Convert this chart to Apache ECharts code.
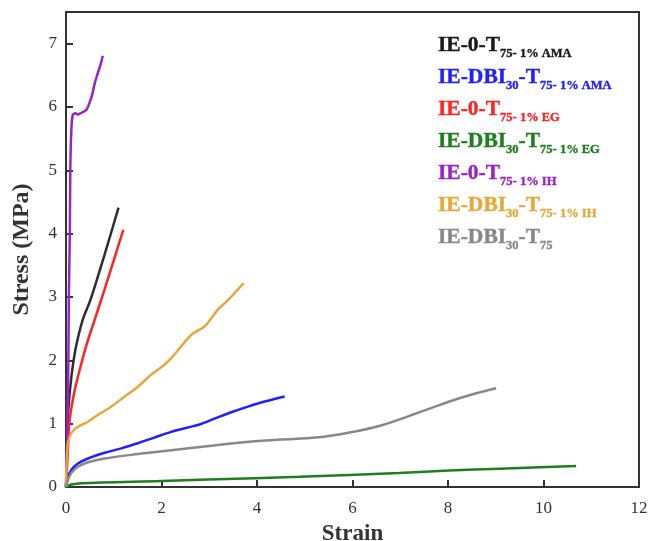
<!DOCTYPE html>
<html>
<head>
<meta charset="utf-8">
<script src="https://cdn.jsdelivr.net/npm/echarts@6/dist/echarts.min.js"></script>
<style>
  html, body { margin: 0; padding: 0; background: #fff; }
  #chart { width: 649px; height: 541px; }
</style>
</head>
<body>
<div id="chart"></div>
<script>
// 曲线数据 [strain, stress]
var ie0Ama = [[0,0],[0.02,0.6],[0.05,1.22],[0.09,1.58],[0.14,1.9],[0.21,2.22],[0.35,2.64],[0.51,2.95],[0.8,3.65],[1.1,4.41]];
var dbiAma = [[0,0],[0.02,0.1],[0.04,0.16],[0.11,0.27],[0.25,0.37],[0.46,0.45],[0.81,0.54],[1.16,0.61],[1.5,0.69],[1.85,0.78],[2.2,0.87],[2.55,0.94],[2.83,0.995],[3.11,1.08],[3.46,1.18],[3.81,1.27],[4.16,1.35],[4.58,1.43]];
var ie0Eg = [[0,0],[0.02,0.3],[0.04,0.58],[0.07,1.01],[0.14,1.37],[0.25,1.74],[0.42,2.22],[0.6,2.64],[0.8,3.1],[1.0,3.58],[1.2,4.06]];
var dbiEg = [[0,0],[0.05,0.02],[0.11,0.04],[0.32,0.06],[2.0,0.095],[3.95,0.14],[4.89,0.16],[6.98,0.22],[8.03,0.26],[9.08,0.29],[10.68,0.33]];
var ie0Ih = [[0,0],[0.03,1],[0.05,2],[0.06,3],[0.08,4],[0.09,5],[0.11,5.6],[0.14,5.87],[0.2,5.9],[0.25,5.88],[0.3,5.9],[0.38,5.93],[0.44,5.97],[0.5,6.08],[0.55,6.2],[0.6,6.37],[0.66,6.52],[0.72,6.66],[0.77,6.81]];
var dbiIh = [[0,0],[0.01,0.35],[0.04,0.69],[0.11,0.85],[0.25,0.95],[0.46,1.03],[0.67,1.14],[0.95,1.27],[1.23,1.43],[1.5,1.58],[1.78,1.77],[2.06,1.93],[2.2,2.03],[2.41,2.22],[2.62,2.4],[2.76,2.47],[2.86,2.51],[2.97,2.59],[3.18,2.8],[3.39,2.95],[3.72,3.22]];
var dbiT75 = [[0,0],[0.04,0.11],[0.11,0.22],[0.25,0.32],[0.46,0.39],[0.81,0.45],[1.5,0.52],[2.06,0.57],[2.9,0.64],[3.84,0.715],[4.5,0.75],[5.24,0.78],[5.94,0.86],[6.63,0.98],[7.33,1.16],[8.03,1.35],[8.59,1.48],[9.01,1.56]];

var seriesNames = ['IE-0-T75- 1% AMA', 'IE-DBI30-T75- 1% AMA', 'IE-0-T75- 1% EG', 'IE-DBI30-T75- 1% EG', 'IE-0-T75- 1% IH', 'IE-DBI30-T75- 1% IH', 'IE-DBI30-T75'];
var seriesData = [ie0Ama, dbiAma, ie0Eg, dbiEg, ie0Ih, dbiIh, dbiT75];
var seriesColors = ['#2e2e2e', '#1f1fff', '#ff2424', '#1f7f1f', '#9a22cc', '#e8a838', '#888888'];
var legendColors = ['#1a1a1a', '#1f1fff', '#ff2424', '#1f7f1f', '#9a22cc', '#e8a838', '#888888'];
var legendRich = [
    '{a|IE-0-T}{s|75- 1% AMA}',
    '{a|IE-DBI}{s|30}{a|-T}{s|75- 1% AMA}',
    '{a|IE-0-T}{s|75- 1% EG}',
    '{a|IE-DBI}{s|30}{a|-T}{s|75- 1% EG}',
    '{a|IE-0-T}{s|75- 1% IH}',
    '{a|IE-DBI}{s|30}{a|-T}{s|75- 1% IH}',
    '{a|IE-DBI}{s|30}{a|-T}{s|75}'
];

var chart = echarts.init(document.getElementById('chart'));

var series = seriesNames.map(function(name, i) {
    return {
        name: name,
        type: 'line',
        data: seriesData[i],
        smooth: 0.3,
        showSymbol: false,
        lineStyle: { color: seriesColors[i], width: 2.5 },
        itemStyle: { color: seriesColors[i] }
    };
});

var option = {
    animation: false,
    backgroundColor: '#fff',
    grid: {
        left: 66, right: 10, top: 12, bottom: 54,
        outerBoundsMode: 'none',
        containLabel: false,
        show: true, borderColor: '#333', borderWidth: 2
    },
    legend: {
        orient: 'vertical',
        left: 428,
        top: 25,
        itemGap: 1.8,
        icon: 'none',
        itemWidth: 0,
        selectedMode: false,
        data: seriesNames.map(function(name, i) {
            return { name: name, textStyle: { color: legendColors[i], textBorderColor: legendColors[i], textBorderWidth: 0.4 } };
        }),
        formatter: function(name) {
            return legendRich[seriesNames.indexOf(name)];
        },
        textStyle: {
            fontFamily: 'Liberation Serif',
            fontWeight: 'bold',
            rich: {
                a: { fontSize: 21.5, fontWeight: 'bold', fontFamily: 'Liberation Serif', lineHeight: 29 },
                s: { fontSize: 12.5, fontWeight: 'bold', fontFamily: 'Liberation Serif', lineHeight: 12, padding: [17, 0, 0, 0], verticalAlign: 'bottom' }
            }
        }
    },
    xAxis: {
        type: 'value',
        min: 0, max: 12, interval: 2,
        name: 'Strain',
        nameLocation: 'middle',
        nameGap: 36,
        nameTextStyle: { fontFamily: 'Liberation Serif', fontWeight: 'bold', fontSize: 23, color: '#333' },
        axisLine: { show: true, lineStyle: { color: '#333', width: 2 } },
        axisTick: { inside: true, length: 7, lineStyle: { color: '#333', width: 2 } },
        axisLabel: { fontFamily: 'Liberation Serif', fontSize: 17, color: '#333', margin: 13 },
        splitLine: { show: false }
    },
    yAxis: {
        type: 'value',
        min: 0, max: 7.5, interval: 1,
        name: 'Stress (MPa)',
        nameLocation: 'middle',
        nameGap: 32,
        nameTextStyle: { fontFamily: 'Liberation Serif', fontWeight: 'bold', fontSize: 24, color: '#333' },
        axisLine: { show: true, lineStyle: { color: '#333', width: 2 } },
        axisTick: { inside: true, length: 7, lineStyle: { color: '#333', width: 2 } },
        axisLabel: { fontFamily: 'Liberation Serif', fontSize: 17, color: '#333', margin: 9,
            formatter: function(v) { return v % 1 === 0 ? String(v) : ''; } },
        splitLine: { show: false }
    },
    series: series
};

chart.setOption(option);
</script>
</body>
</html>
